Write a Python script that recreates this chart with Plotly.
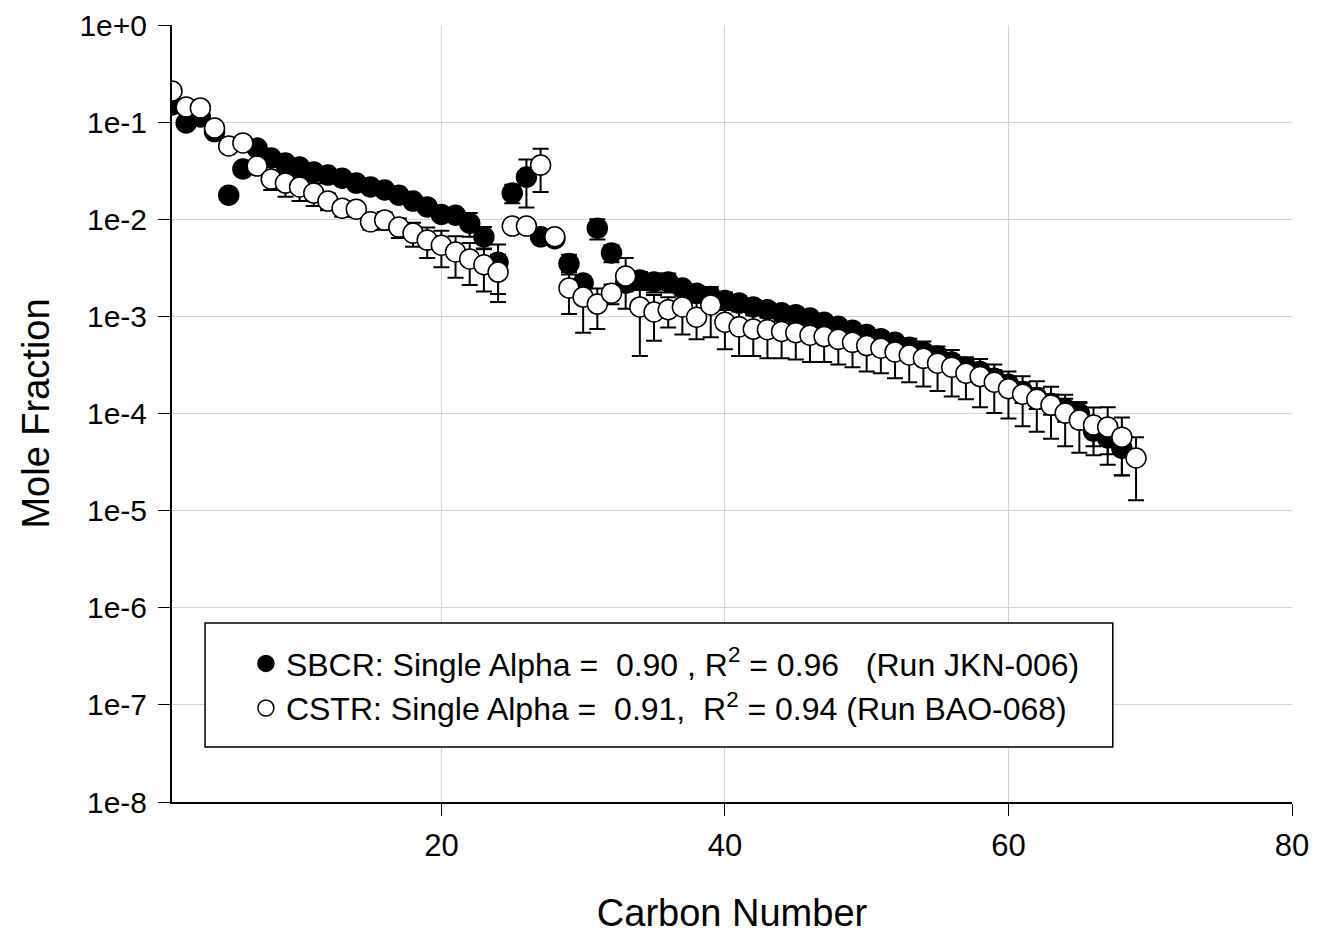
import plotly.graph_objects as go

# ---------------- data ----------------
sbcr_carbon = list(range(1, 69))
sbcr_frac = [0.150, 0.098, 0.113, 0.080, 0.0177, 0.0329, 0.054, 0.0427, 0.0379, 0.0345,
             0.0306, 0.0285, 0.0265, 0.0236, 0.0215, 0.0200, 0.0177, 0.0154, 0.0134, 0.0112,
             0.0110, 0.0091, 0.0066, 0.0036, 0.0186, 0.0272, 0.0066, 0.0063, 0.0035, 0.0022,
             0.0081, 0.0045, 0.0022, 0.00237, 0.00226, 0.00226, 0.00196, 0.00173, 0.00160, 0.00146,
             0.00137, 0.00125, 0.00117, 0.00109, 0.00104, 0.00096, 0.00087, 0.00079, 0.00072, 0.00065,
             0.00059, 0.00054, 0.00048, 0.00043, 0.00039, 0.00034, 0.00030, 0.00027, 0.00023, 0.00020,
             0.000168, 0.000146, 0.000127, 0.000112, 0.000100, 0.000066, 0.000056, 0.000044]
sbcr_err = [0, 0, 0, 0, 0, 0, 0, 0, 0, 0,
            0, 0, 0, 0, 0, 0, 0, 0, 0, 0,
            0, 0.0025, 0.0017, 0.0019, 0.004, 0.014, 0.0008, 0.0008, 0.0008, 0.0004,
            0.0019, 0.0009, 0.0004, 0.0005, 0.0005, 0.0005, 0.0003, 0.0003, 0.0003, 0.0003,
            0.00025, 0.00022, 0.0002, 0.00019, 0.00018, 0.00016, 0.00015, 0.00013, 0.00012, 0.00011,
            0.0001, 0.00009, 0.00008, 0.00007, 0.00007, 0.00006, 0.00006, 0.00005, 0.00005, 0.00004,
            0.00004, 0.000035, 0.00003, 0.00003, 0.000028, 0.00002, 0.000018, 0.000021]

cstr_carbon = list(range(1, 70))
cstr_frac = [0.209, 0.143, 0.140, 0.087, 0.0568, 0.061, 0.0353, 0.0259, 0.0236, 0.0215,
             0.0186, 0.0154, 0.0130, 0.0127, 0.0094, 0.0098, 0.0083, 0.0072, 0.0061, 0.0054,
             0.0046, 0.0039, 0.0034, 0.00286, 0.0085, 0.0085, 0.0361, 0.0066, 0.00196, 0.00158,
             0.00134, 0.00173, 0.0026, 0.00125, 0.00111, 0.00117, 0.00125, 0.00098, 0.00131, 0.00087,
             0.00078, 0.00074, 0.00073, 0.00070, 0.00068, 0.00064, 0.00062, 0.00058, 0.00054, 0.00050,
             0.00047, 0.00043, 0.00040, 0.00037, 0.00033, 0.00030, 0.00026, 0.00024, 0.00021, 0.00018,
             0.000158, 0.000140, 0.000122, 0.000101, 0.0000855, 0.0000761, 0.0000727, 0.0000571, 0.0000348]
cstr_err = [0, 0, 0, 0, 0, 0, 0, 0.0059, 0.0066, 0.0061,
            0.0049, 0.0030, 0.0024, 0.0020, 0.0016, 0.0020, 0.0019, 0.0020, 0.0021, 0.0022,
            0.0021, 0.0018, 0.0016, 0.00145, 0.0005, 0.0005, 0.017, 0.0005, 0.0009, 0.0009,
            0.0006, 0.0004, 0.0014, 0.00086, 0.00055, 0.0004, 0.0006, 0.0004, 0.0007, 0.00041,
            0.00039, 0.00035, 0.00036, 0.00033, 0.00032, 0.00030, 0.00028, 0.00026, 0.00024, 0.00023,
            0.00021, 0.00020, 0.00019, 0.00018, 0.00016, 0.00015, 0.00012, 0.000124, 0.000109, 0.000091,
            0.000084, 0.000075, 0.000067, 0.000055, 0.000046, 0.000039, 0.000043, 0.000034, 0.000022]

y_tick_vals = [1, 1e-1, 1e-2, 1e-3, 1e-4, 1e-5, 1e-6, 1e-7, 1e-8]
y_tick_text = ["1e+0", "1e-1", "1e-2", "1e-3", "1e-4", "1e-5", "1e-6", "1e-7", "1e-8"]
x_tick_vals = [20, 40, 60, 80]

sbcr_name = "SBCR: Single Alpha =\u00a0 0.90 , R<sup>2</sup> = 0.96\u00a0\u00a0 (Run JKN-006)"
cstr_name = "CSTR: Single Alpha =\u00a0 0.91,\u00a0 R<sup>2</sup> = 0.94 (Run BAO-068)"

FONT = "Liberation Sans, Arial, sans-serif"

fig = go.Figure()
fig.add_trace(go.Scatter(
    x=sbcr_carbon, y=sbcr_frac, mode="markers", name=sbcr_name,
    marker=dict(symbol="circle", size=20, color="black", line=dict(color="black", width=1.5)),
    error_y=dict(type="data", array=sbcr_err, visible=True, color="black", thickness=2, width=8),
))
fig.add_trace(go.Scatter(
    x=cstr_carbon, y=cstr_frac, mode="markers", name=cstr_name,
    marker=dict(symbol="circle", size=20, color="white", line=dict(color="black", width=1.5)),
    error_y=dict(type="data", array=cstr_err, visible=True, color="black", thickness=2, width=8),
))

fig.add_shape(type="rect", xref="paper", yref="paper",
              x0=0.0295, x1=0.840, y0=0.0708, y1=0.2304,
              line=dict(color="black", width=1.5), fillcolor="white", layer="above")

fig.update_layout(
    width=1323, height=934,
    margin=dict(l=172, r=31, t=25, b=132, autoexpand=False),
    paper_bgcolor="white", plot_bgcolor="white",
    font=dict(family=FONT, color="black", size=30),
    showlegend=True,
    legend=dict(x=0.066, y=0.2135, xanchor="left", yanchor="top",
                bgcolor="rgba(0,0,0,0)", borderwidth=0,
                font=dict(family=FONT, size=32, color="black"),
                itemsizing="trace", tracegroupgap=0),
    xaxis=dict(range=[1, 80], tickvals=x_tick_vals, ticks="outside", ticklen=12,
               tickwidth=1, tickcolor="black", showline=True, linecolor="black", linewidth=2,
               showgrid=True, gridcolor="#d4d4d4", gridwidth=1, zeroline=False,
               tickfont=dict(size=31), ticklabelstandoff=3, automargin=False,
               title=dict(text="Carbon Number", font=dict(size=38), standoff=38)),
    yaxis=dict(type="log", range=[-8, 0], tickvals=y_tick_vals, ticktext=y_tick_text,
               ticks="outside", ticklen=12, tickwidth=1, tickcolor="black",
               showline=True, linecolor="black", linewidth=2,
               showgrid=True, gridcolor="#d4d4d4", gridwidth=1, zeroline=False,
               tickfont=dict(size=30), ticklabelstandoff=5, automargin=False,
               title=dict(text="Mole Fraction", font=dict(size=38), standoff=18)),
)

fig.write_html("out.html")
